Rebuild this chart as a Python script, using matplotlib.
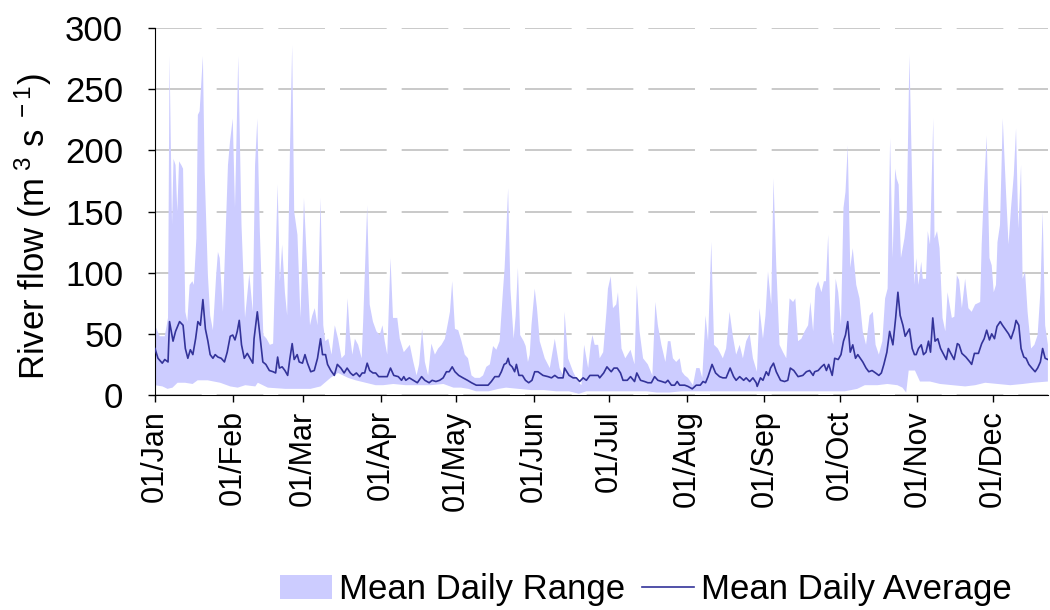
"""river flow: mean daily range and mean daily average"""

import matplotlib.pyplot as plt
import numpy as np
from matplotlib.patches import Patch
from matplotlib.lines import Line2D

plt.rcParams['font.family'] = ['Liberation Sans', 'DejaVu Sans']
plt.rcParams['mathtext.fontset'] = 'custom'
plt.rcParams['mathtext.rm'] = 'Liberation Sans'
plt.rcParams['mathtext.it'] = 'Liberation Sans'

# data (day of year from 01/Jan = 0)
upper_day = [0, 1.9, 3.9, 5.2, 5.8, 6.8, 7.4, 8.2, 8.9, 9.6, 10.5, 11.2, 12.1, 12.9, 13.8,
             14.9, 15.5, 16.5, 17.1, 17.8, 19.1, 19.8, 21.1, 22.0, 23.1, 24.4, 25.1, 25.8,
             27.1, 29.1, 29.9, 31.0, 31.9, 33.2, 34.5, 35.9, 37.6, 39.0, 39.9, 40.8, 41.8,
             43.2, 44.5, 45.8, 47.1, 48.9, 49.8, 50.7, 51.8, 52.7, 53.8, 54.7, 55.5, 56.8,
             58.0, 59.4, 60.8, 61.8, 62.7, 63.7, 64.8, 66.0, 67.1, 67.9, 69.1, 70.4, 71.7,
             73.0, 74.4, 75.7, 76.8, 77.7, 78.7, 79.7, 81.0, 82.4, 83.0, 84.6, 85.6, 86.9,
             88.3, 89.6, 90.7, 91.6, 92.6, 93.9, 94.9, 96.6, 97.6, 99.2, 101.6, 103.0,
             104.3, 105.3, 106.5, 107.6, 108.9, 110.2, 111.6, 112.9, 114.2, 115.6, 116.9,
             117.6, 118.5, 119.6, 120.9, 122.2, 123.5, 124.8, 126.2, 127.5, 129.5, 130.8,
             132.1, 133.5, 134.8, 136.1, 137.4, 138.8, 139.4, 140.8, 141.7, 143.0, 143.8,
             144.7, 145.6, 147.0, 147.8, 148.7, 149.4, 150.1, 151.4, 152.3, 153.4, 155.4,
             157.4, 159.4, 161.3, 162.7, 163.3, 164.7, 166.7, 168.7, 170.0, 171.1, 172.7,
             173.7, 174.4, 175.3, 176.7, 177.3, 178.7, 180.0, 180.6, 181.7, 182.6, 183.9,
             184.6, 186.0, 187.5, 189.6, 191.2, 192.1, 193.2, 194.6, 196.5, 198.3, 199.5,
             200.5, 201.9, 203.5, 204.5, 205.5, 206.5, 207.8, 209.2, 210.1, 211.2, 212.5,
             214.5, 215.8, 217.1, 218.2, 219.5, 220.5, 221.8, 222.9, 224.4, 226.4, 227.7,
             229.1, 230.4, 231.7, 233.1, 234.4, 235.7, 237.1, 238.4, 240.0, 241.0, 242.4,
             243.4, 244.4, 245.7, 246.6, 247.7, 249.0, 250.4, 251.7, 253.0, 254.4, 255.3,
             256.4, 257.7, 259.0, 260.4, 261.3, 262.4, 263.3, 264.4, 265.7, 266.7, 267.5,
             268.4, 269.4, 270.4, 271.4, 272.4, 273.5, 274.5, 275.3, 276.2, 277.2, 278.2,
             279.6, 280.9, 282.2, 283.5, 284.9, 286.2, 287.3, 288.6, 290.0, 291.1, 292.1,
             293.1, 294.1, 295.1, 295.7, 296.5, 297.4, 298.8, 299.7, 300.8, 301.9, 302.8,
             303.5, 304.4, 305.5, 306.1, 307.4, 308.1, 309.0, 310.3, 310.8, 311.8, 312.8,
             314.0, 315.1, 316.0, 317.7, 318.7, 319.7, 320.6, 321.7, 323.0, 324.3, 325.6,
             327.0, 329.0, 329.6, 330.6, 331.6, 332.7, 333.6, 334.4, 335.3, 335.9, 336.9,
             338.0, 339.3, 340.3, 341.3, 342.4, 343.3, 344.2, 345.3, 345.9, 346.9, 347.9,
             349.3, 350.6, 351.9, 353.0, 353.9, 354.9, 356.0]
upper_val = [57, 48, 48, 63, 277, 139, 193, 188, 150, 191, 188, 185, 68, 60, 90,
             93, 90, 128, 229, 232, 277, 183, 98, 65, 53, 98, 117, 112,
             68, 188, 207, 226, 153, 277, 139, 63, 99, 68, 188, 226, 134,
             49, 46, 41, 42, 172, 93, 123, 84, 65, 199, 286, 150, 131,
             63, 161, 98, 57, 65, 71, 57, 161, 57, 44, 46, 33, 57,
             46, 30, 33, 79, 49, 33, 46, 41, 30, 60, 155, 74, 60,
             52, 49, 57, 44, 33, 112, 63, 63, 46, 35, 41, 27,
             16, 25, 54, 27, 16, 42, 33, 38, 41, 46, 60,
             68, 93, 54, 53, 44, 33, 30, 16, 14, 14, 16,
             23, 25, 40, 37, 44, 87, 104, 169, 87, 46, 65,
             104, 49, 44, 40, 27, 33, 57, 87, 71, 44, 30,
             22, 46, 22, 16, 68, 30, 19, 11, 8, 41, 22,
             41, 49, 41, 41, 30, 35, 68, 87, 97, 71, 74,
             84, 38, 30, 37, 25, 90, 52, 30, 25, 16, 76,
             57, 41, 27, 44, 44, 30, 27, 30, 19, 16, 14,
             8, 22, 22, 14, 65, 44, 125, 41, 38, 30, 38,
             68, 48, 33, 41, 30, 44, 50, 30, 19, 71, 46,
             65, 101, 74, 177, 106, 41, 35, 30, 79, 76, 79,
             44, 46, 52, 57, 76, 52, 87, 93, 84, 93, 93,
             131, 54, 41, 95, 84, 57, 153, 166, 204, 104, 120,
             90, 79, 52, 41, 65, 68, 41, 33, 44, 79, 87,
             210, 112, 185, 177, 172, 112, 128, 144, 278, 172, 90,
             112, 90, 109, 95, 95, 134, 123, 226, 128, 134, 120,
             63, 52, 84, 63, 64, 98, 94, 71, 95, 71, 68,
             74, 76, 123, 172, 212, 112, 106, 84, 90, 125, 139,
             226, 166, 123, 153, 180, 218, 136, 188, 95, 101, 68,
             38, 41, 49, 84, 150, 57, 41]

lower_day = [0, 3, 5, 7, 9, 12, 15, 17, 21, 26, 30, 33, 36, 40, 41, 43, 45, 52, 60,
             62, 66, 70, 73, 75, 77, 80, 84, 88, 91, 95, 100, 105, 110, 115, 119, 122,
             125, 128, 133, 137, 140, 145, 150, 155, 160, 165, 169, 172, 178, 185, 190,
             196, 200, 205, 210, 215, 220, 225, 230, 235, 240, 245, 250, 255, 260, 265,
             270, 275, 280, 283, 288, 292, 296, 298, 299.5, 300.5, 303, 305, 309, 313,
             318, 323, 327, 331, 336, 341, 346, 350, 356]
lower_val = [8, 7, 5, 6, 10, 10, 9, 12, 12, 10, 7, 6, 8, 7, 10, 8, 6, 5, 5,
             5, 7, 14, 18, 16, 14, 12, 10, 8, 8, 9, 8, 8, 8, 9, 6, 6,
             5, 3, 3, 5, 6, 5, 4, 4, 3, 3, 1, 3, 3, 3, 3,
             3, 2, 2, 3, 3, 3, 3, 3, 3, 3, 3, 3, 3, 3, 3,
             3, 3, 5, 8, 8, 9, 8, 6, 2, 20, 20, 11, 11, 9,
             8, 7, 8, 10, 9, 8, 9, 10, 11]

mean_day = [0, 1.2, 2.9, 3.9, 5.2, 5.8, 7.2, 8.2, 9.8, 11.2, 12.1, 13.1, 14.1, 15.1, 16.2,
            17.1, 18.1, 19.1, 20.1, 21.1, 22.0, 23.1, 24.0, 25.1, 26.4, 27.7, 28.8, 30.0,
            31.0, 31.9, 32.8, 33.6, 34.5, 35.6, 36.8, 37.9, 39.0, 39.5, 40.8, 41.8, 43.0,
            44.2, 45.6, 47.1, 48.1, 48.9, 49.6, 50.7, 51.8, 52.9, 53.8, 54.7, 55.5, 56.7,
            57.5, 58.8, 59.8, 60.8, 62.1, 63.5, 64.8, 66.0, 66.8, 68.0, 68.8, 70.1, 71.5,
            72.7, 74.1, 75.4, 76.6, 77.9, 79.0, 80.3, 81.6, 82.6, 83.6, 84.6, 85.6, 86.9,
            88.0, 89.2, 90.6, 91.6, 92.6, 93.9, 95.2, 97.0, 98.3, 99.2, 100.0, 101.4,
            103.0, 104.6, 106.3, 107.6, 109.3, 110.5, 112.0, 113.5, 114.9, 116.2, 117.3,
            118.5, 119.6, 121.1, 122.8, 124.6, 126.2, 128.1, 130.1, 132.8, 134.1, 135.5,
            137.1, 138.1, 139.2, 140.1, 140.8, 141.4, 142.4, 143.4, 144.1, 145.1, 146.5,
            147.7, 149.0, 150.3, 151.4, 152.7, 154.7, 156.7, 158.1, 159.4, 160.7, 162.7,
            163.3, 165.1, 166.7, 168.0, 169.3, 170.7, 172.0, 173.4, 175.0, 176.7, 177.3,
            178.9, 180.2, 180.6, 181.9, 183.0, 184.3, 185.6, 186.6, 188.3, 189.6, 191.2,
            192.1, 193.6, 195.2, 196.5, 197.9, 199.2, 200.5, 202.1, 203.5, 204.5, 205.9,
            207.2, 208.2, 209.2, 211.2, 212.5, 214.2, 215.8, 217.4, 218.5, 219.5, 220.5,
            222.1, 223.5, 225.1, 226.4, 227.7, 229.3, 230.7, 231.7, 233.1, 234.7, 235.7,
            237.1, 238.4, 239.7, 240.1, 241.4, 242.4, 243.7, 244.6, 245.4, 246.6, 247.7,
            249.4, 251.0, 252.3, 253.3, 254.7, 256.4, 258.3, 259.7, 261.0, 262.4, 263.0,
            264.4, 265.7, 266.8, 267.7, 268.6, 270.0, 271.0, 272.4, 273.5, 274.5, 275.3,
            276.2, 277.2, 278.2, 279.3, 280.2, 281.2, 282.2, 283.5, 284.6, 285.9, 287.3,
            288.6, 289.6, 290.6, 291.8, 292.9, 294.2, 295.3, 296.2, 297.1, 298.2, 299.1,
            300.8, 301.9, 302.8, 303.5, 304.4, 305.5, 306.4, 307.4, 308.4, 309.2, 310.1,
            311.0, 312.1, 313.2, 314.5, 315.5, 316.3, 317.3, 318.6, 319.9, 320.6, 321.7,
            323.3, 324.9, 325.6, 326.7, 328.3, 329.6, 330.6, 331.6, 332.7, 333.6, 334.7,
            335.7, 337.0, 337.9, 339.3, 340.3, 341.3, 342.6, 343.3, 344.4, 345.3, 346.4,
            347.3, 348.4, 349.6, 350.9, 351.9, 353.0, 353.9, 354.9, 356.0]
mean_val = [38, 30, 26, 29, 27, 60, 44, 52, 60, 57, 38, 30, 37, 33, 46,
            60, 57, 78, 54, 44, 33, 30, 33, 31, 30, 27, 35, 48,
            49, 45, 52, 61, 41, 30, 34, 30, 26, 46, 68, 49, 27,
            25, 20, 19, 18, 31, 22, 23, 20, 16, 30, 42, 29, 33,
            27, 26, 33, 26, 19, 20, 30, 46, 33, 33, 25, 20, 16,
            25, 22, 18, 22, 18, 16, 18, 15, 18, 18, 26, 20, 18,
            18, 15, 15, 15, 15, 22, 16, 15, 12, 15, 12, 14,
            12, 10, 15, 12, 10, 12, 11, 12, 14, 19, 19,
            23, 19, 16, 14, 12, 10, 8, 8, 8, 11, 15,
            15, 19, 25, 26, 30, 25, 23, 19, 25, 16, 16,
            12, 10, 12, 19, 19, 16, 15, 14, 16, 14, 14,
            22, 16, 14, 14, 11, 14, 12, 16, 16, 16, 14,
            18, 23, 22, 19, 22, 22, 18, 12, 12, 15, 11,
            18, 12, 11, 10, 10, 15, 12, 11, 10, 12, 8,
            8, 11, 8, 8, 7, 5, 8, 8, 11, 10, 15,
            25, 18, 15, 14, 14, 22, 15, 12, 15, 12, 14,
            11, 14, 10, 7, 14, 12, 19, 16, 22, 26, 19,
            12, 11, 12, 22, 20, 15, 16, 19, 20, 16, 19,
            20, 23, 25, 20, 25, 16, 30, 29, 33, 44, 49,
            60, 35, 41, 30, 33, 30, 27, 22, 19, 20, 18,
            16, 18, 25, 35, 52, 41, 63, 84, 65, 57, 48,
            54, 38, 33, 33, 38, 41, 33, 35, 44, 35, 63,
            44, 46, 38, 33, 29, 38, 34, 29, 42, 41, 34,
            31, 27, 25, 34, 34, 42, 46, 53, 45, 50, 46,
            56, 60, 57, 53, 50, 46, 54, 61, 57, 38, 31,
            30, 25, 22, 19, 22, 27, 38, 30, 29]

month_days = [0, 31, 59, 90, 120, 151, 181, 212, 243, 273, 304, 334]
month_labels = ['01/Jan', '01/Feb', '01/Mar', '01/Apr', '01/May', '01/Jun',
                '01/Jul', '01/Aug', '01/Sep', '01/Oct', '01/Nov', '01/Dec']

range_col = '#CCCCFF'
mean_col = '#333399'

fig = plt.figure(figsize=(10.5, 6.1), dpi=100)
ax = fig.add_axes([0.1476, 0.3525, 0.8504, 0.6015])

# range as one polygon: upper edge then lower edge back
poly_x = np.concatenate([upper_day, lower_day[::-1]])
poly_y = np.concatenate([upper_val, lower_val[::-1]])
ax.fill(poly_x, poly_y, color=range_col, linewidth=0, zorder=2)
ax.plot(mean_day, mean_val, color=mean_col, linewidth=1.2, zorder=3)

ax.set_xlim(0, 356)
ax.set_ylim(0, 300)
ax.set_yticks(np.arange(0, 301, 50))
ax.set_xticks(month_days)
ax.set_xticklabels(month_labels, rotation=90)
ax.tick_params(axis='both', direction='out', length=5, width=1, colors='black')
ax.tick_params(axis='x', labelsize=22, pad=6)
ax.tick_params(axis='y', labelsize=25, pad=18)

ax.grid(axis='y', color='#c0c0c0', linewidth=1.2, linestyle=(0, (28, 9)), zorder=0)
ax.set_axisbelow(True)
for s in ['top', 'right']:
    ax.spines[s].set_visible(False)
ax.spines['left'].set_color('black')
ax.spines['bottom'].set_color('black')

ax.set_ylabel(r'River flow (m$^{\ 3}$ s$^{\ -1}$)', fontsize=25)
ax.yaxis.set_label_coords(-0.113, 0.46)

handles = [Patch(facecolor=range_col, edgecolor='none'),
           Line2D([0], [0], color=mean_col, linewidth=1.2)]
fig.legend(handles, ['Mean Daily Range', 'Mean Daily Average'], loc='center',
           bbox_to_anchor=(0.615, 0.033), ncol=2, frameon=False, fontsize=25,
           handlelength=1.5, handletextpad=0.2, columnspacing=0.5)

plt.savefig('out.png', dpi=100)
